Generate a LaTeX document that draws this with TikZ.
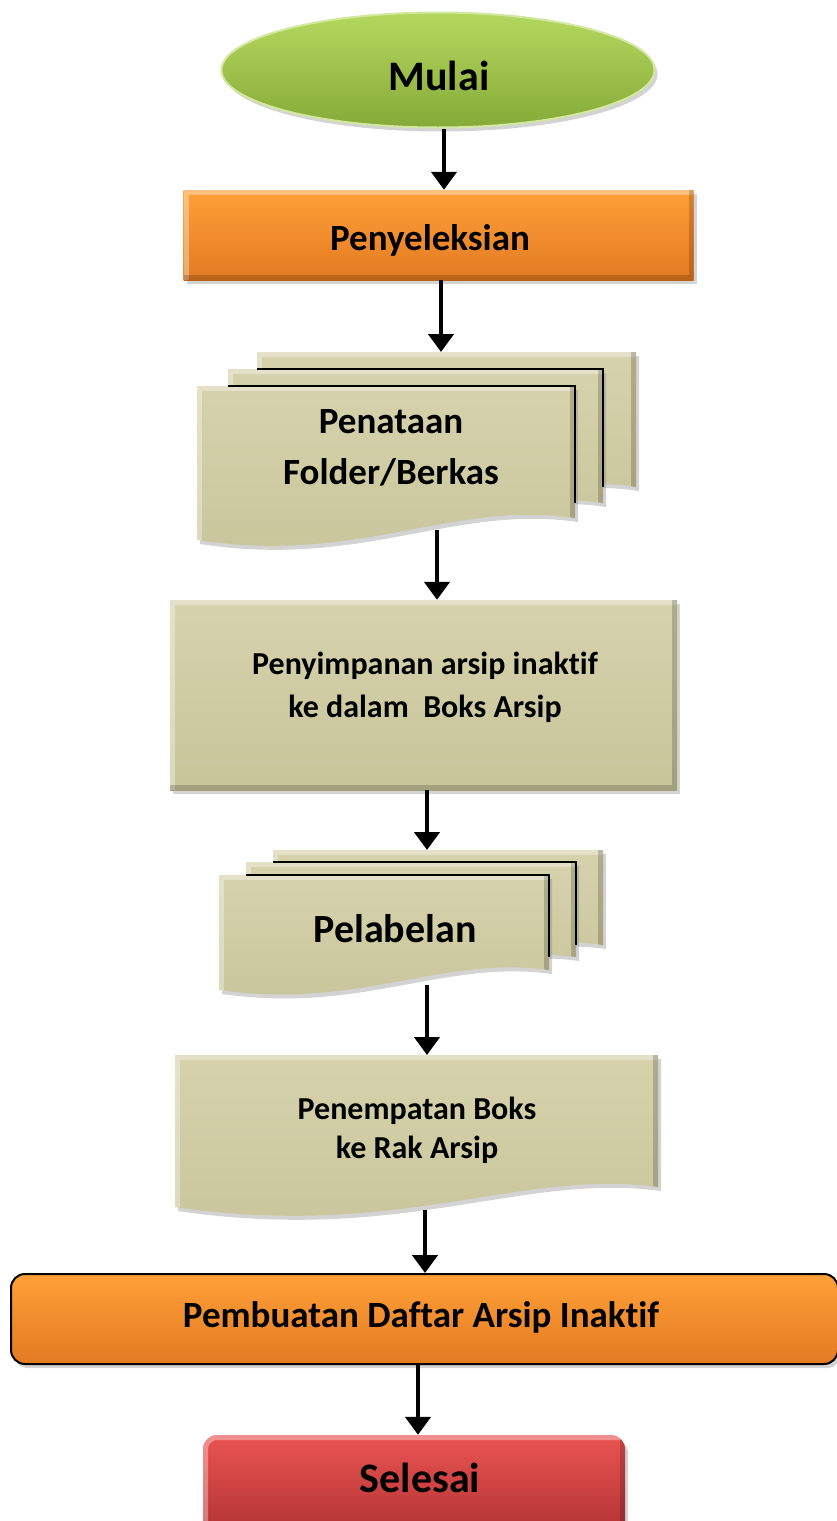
\documentclass[tikz,border=0pt]{standalone}
\usepackage{fontspec}
\setmainfont{Carlito}[Ligatures={NoCommon,NoRequired,NoContextual}]
\usetikzlibrary{arrows.meta,shadows,shapes.geometric}
\definecolor{khakiT}{RGB}{214,210,172}
\definecolor{khakiB}{RGB}{200,196,154}
\definecolor{orT}{RGB}{255,160,56}
\definecolor{orB}{RGB}{226,122,34}
\definecolor{grT}{RGB}{180,216,94}
\definecolor{grB}{RGB}{134,170,56}
\definecolor{rdT}{RGB}{234,84,82}
\definecolor{rdB}{RGB}{176,50,50}
\begin{document}
\begin{tikzpicture}[x=1pt,y=-1pt,
  arr/.style={line width=4.5pt,-{Triangle[width=25pt,length=18pt]}},
  lbl/.style={text=black,align=center,inner sep=0pt},
  shad/.style={drop shadow={shadow xshift=3pt,shadow yshift=-4pt,opacity=0.35}},
  bevel/.style={path picture={
    \draw[white,opacity=0.35,line width=10pt] (path picture bounding box.south west) -- (path picture bounding box.north west) -- (path picture bounding box.north east);
    \draw[black,opacity=0.18,line width=10pt] (path picture bounding box.north east) -- (path picture bounding box.south east) -- (path picture bounding box.south west);}},
  sheet/.style={top color=khakiT,bottom color=khakiB,shad,bevel},
  edge/.style={draw=black,line width=2pt},
  hid/.style={inner sep=0pt,outer sep=0pt,minimum width=#1}]
\useasboundingbox (0,0) rectangle (836,1521);

% Mulai
\node[ellipse,minimum width=433pt,minimum height=115pt,inner sep=0pt,top color=grT,bottom color=grB,shad,draw=grT!60!white,line width=2pt] (start) at (438,70) {};
\node[lbl,anchor=base,font=\fontsize{42}{50}\selectfont\bfseries] (startT) at (439,90) {Mulai};

% Penyeleksian
\node[rectangle,minimum width=510pt,minimum height=90pt,top color=orT,bottom color=orB,shad,bevel] (sel) at (438.5,235) {};
\node[lbl,anchor=base,font=\fontsize{37}{44}\selectfont\bfseries] (selT) at (430,250) {Penyeleksian};

% Penataan stack
\path[sheet] (257,352) -- (636,352) -- (636,487) .. controls (511,469) and (420,532) .. (257,507) -- cycle;
\path[sheet] (228,369) -- (603,369) -- (603,503) .. controls (478,485) and (391,548) .. (228,523) -- cycle;
\path[sheet] (197,386) -- (575,386) -- (575,518) .. controls (450,500) and (360,565) .. (197,540) -- cycle;
\draw[edge] (257,369) -- (603,369) -- (603,487);
\draw[edge] (228,386) -- (575,386) -- (575,503);
\node[hid=439pt,minimum height=178pt] (tata) at (416.5,441) {};
\node[lbl,font=\fontsize{37}{51}\selectfont\bfseries] (tataT) at (391,448) {Penataan\\Folder/Berkas};

% Penyimpanan
\node[rectangle,minimum width=507pt,minimum height=190pt,top color=khakiT,bottom color=khakiB,shad,bevel] (simp) at (423.5,695) {};
\node[lbl,font=\fontsize{32}{43}\selectfont\bfseries] (simpT) at (425,687) {Penyimpanan arsip inaktif\\ke dalam\ \ Boks Arsip};

% Pelabelan stack
\path[sheet] (273,850) -- (603,850) -- (603,945) .. controls (494,930) and (414,985) .. (273,965) -- cycle;
\path[sheet] (246,862) -- (576,862) -- (576,957) .. controls (467,942) and (387,997) .. (246,977) -- cycle;
\path[sheet] (219,875) -- (549,875) -- (549,970) .. controls (440,955) and (360,1010) .. (219,990) -- cycle;
\draw[edge] (273,862) -- (576,862) -- (576,945);
\draw[edge] (246,875) -- (549,875) -- (549,957);
\node[hid=384pt,minimum height=135pt] (lab) at (411,917.5) {};
\node[lbl,anchor=base,font=\fontsize{40}{48}\selectfont\bfseries] (labT) at (395,942) {Pelabelan};

% Penempatan
\path[sheet] (175,1055) -- (658,1055) -- (658,1187) .. controls (520,1168) and (400,1240) .. (175,1207) -- cycle;
\node[hid=483pt,minimum height=155pt] (temp) at (416.5,1132.5) {};
\node[lbl,font=\fontsize{32}{39}\selectfont\bfseries] (tempT) at (417,1130) {Penempatan Boks\\ke Rak Arsip};

% Pembuatan Daftar
\node[rectangle,rounded corners=14pt,minimum width=827pt,minimum height=90pt,top color=orT,bottom color=orB,draw=black,line width=2pt,shad] (daf) at (424.5,1319) {};
\node[lbl,anchor=base,font=\fontsize{37}{44}\selectfont\bfseries] (dafT) at (421,1327) {Pembuatan Daftar Arsip Inaktif};

% Selesai
\node[rectangle,rounded corners=14pt,minimum width=422pt,minimum height=100pt,top color=rdT,bottom color=rdB,shad,bevel] (fin) at (414,1485) {};
\node[lbl,anchor=base,font=\fontsize{42}{50}\selectfont\bfseries] (finT) at (420,1492) {Selesai};

% arrows
\coordinate (ax1) at (444,0);
\coordinate (ax2) at (441,0);
\coordinate (ax3) at (437,0);
\coordinate (ax4) at (427,0);
\coordinate (ax6) at (425,0);
\coordinate (ax7) at (418,0);
\draw[arr] (start.south -| ax1) -- (sel.north -| ax1);
\draw[arr] (sel.south -| ax2) -- (tata.north -| ax2);
\draw[arr] (tata.south -| ax3) -- (simp.north -| ax3);
\draw[arr] (simp.south -| ax4) -- (lab.north -| ax4);
\draw[arr] (lab.south -| ax4) -- (temp.north -| ax4);
\draw[arr] (temp.south -| ax6) -- (daf.north -| ax6);
\draw[arr] (daf.south -| ax7) -- (fin.north -| ax7);
\end{tikzpicture}
\end{document}
